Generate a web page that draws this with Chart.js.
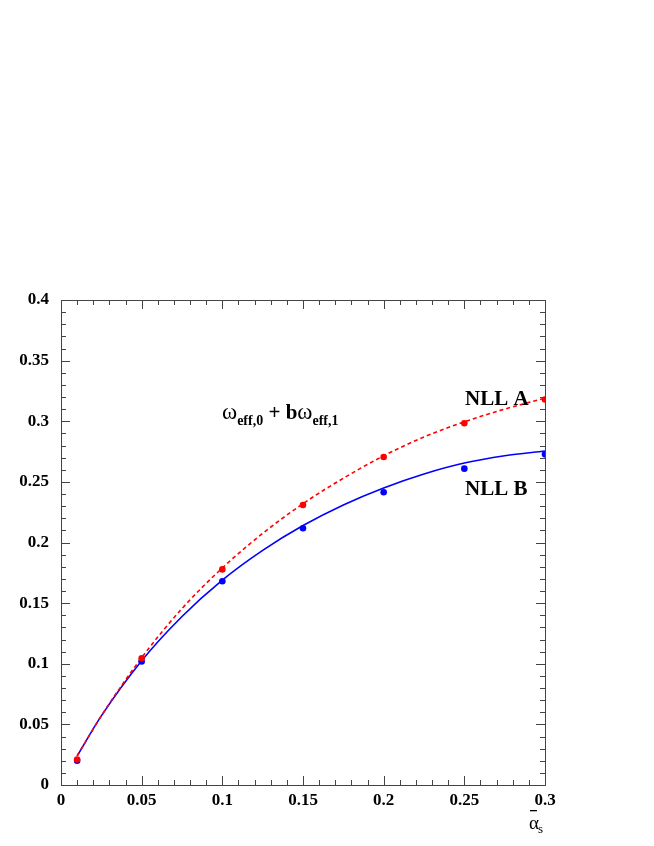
<!DOCTYPE html>
<html>
<head>
<meta charset="utf-8">
<title>omega eff vs alpha_s</title>
<script src="https://cdn.jsdelivr.net/npm/chart.js@4.4.1/dist/chart.umd.min.js"></script>
<style>
  html, body { margin: 0; padding: 0; background: #fff; }
  #plot { display: block; }
</style>
</head>
<body>
<canvas id="plot" width="654" height="846"></canvas>
<script>
// measured points
const alphaPoints = [0.01, 0.05, 0.1, 0.15, 0.2, 0.25, 0.3];
const nllAPoints = [0.021, 0.1045, 0.1778, 0.2309, 0.2705, 0.2984, 0.318];
const nllBPoints = [0.020, 0.1018, 0.168, 0.2117, 0.2414, 0.2609, 0.2727];

// fitted curves
const curveX = [0.01, 0.025, 0.05, 0.075, 0.1, 0.125, 0.15, 0.175, 0.2, 0.225, 0.25, 0.275, 0.3];
const nllACurve = [0.024, 0.057, 0.105, 0.1455, 0.179, 0.2075, 0.232, 0.253, 0.2715, 0.287, 0.2995, 0.31, 0.319];
const nllBCurve = [0.024, 0.057, 0.1025, 0.139, 0.169, 0.1935, 0.214, 0.231, 0.245, 0.2565, 0.2655, 0.2715, 0.2755];

const xTicks = [0, 0.05, 0.1, 0.15, 0.2, 0.25, 0.3];
const yTicks = [0, 0.05, 0.1, 0.15, 0.2, 0.25, 0.3, 0.35, 0.4];

const RED = '#ff0000';
const BLUE = '#0000ff';
const FRAME = '#444444';
const SERIF = "'Liberation Serif', 'DejaVu Serif', serif";

const toXY = (xs, ys) => xs.map((x, i) => ({ x: x, y: ys[i] }));

// frame + inward ticks on all four sides, ROOT style
const framePlugin = {
    id: 'frame',
    afterDatasetsDraw(chart) {
        const { ctx, chartArea: a, scales } = chart;
        const xs = scales.x, ys = scales.y;
        ctx.save();
        ctx.strokeStyle = FRAME;
        ctx.lineWidth = 1;
        ctx.strokeRect(a.left + 0.5, a.top + 0.5, a.right - a.left, a.bottom - a.top);

        ctx.beginPath();
        for (let i = 0; i <= 30; i++) {
            const v = i / 100;
            const len = i % 5 === 0 ? 9 : 5;
            const px = Math.round(xs.getPixelForValue(v)) + 0.5;
            ctx.moveTo(px, a.bottom); ctx.lineTo(px, a.bottom - len);
            ctx.moveTo(px, a.top); ctx.lineTo(px, a.top + len);
        }
        for (let i = 0; i <= 40; i++) {
            const v = i / 100;
            const len = i % 5 === 0 ? 9 : 5;
            const py = Math.round(ys.getPixelForValue(v)) + 0.5;
            ctx.moveTo(a.left, py); ctx.lineTo(a.left + len, py);
            ctx.moveTo(a.right, py); ctx.lineTo(a.right - len, py);
        }
        ctx.stroke();
        ctx.restore();
    }
};

// labels: formula, curve names, x-axis title
const textPlugin = {
    id: 'texts',
    afterDraw(chart) {
        const ctx = chart.ctx;
        ctx.save();
        ctx.fillStyle = '#000';
        ctx.textBaseline = 'alphabetic';
        ctx.textAlign = 'left';

        // omega_eff,0 + b omega_eff,1
        let x = 222;
        const base = 419;
        const omega = '23px ' + SERIF;
        const big = 'bold 21px ' + SERIF;
        const small = 'bold 14px ' + SERIF;
        const parts = [
            ['ω', omega, 0], ['eff,0', small, 6], [' + b', big, 0], ['ω', omega, 0], ['eff,1', small, 6]
        ];
        parts.forEach(([t, f, dy]) => {
            ctx.font = f;
            ctx.fillText(t, x, base + dy);
            x += ctx.measureText(t).width;
        });

        ctx.font = 'bold 21px ' + SERIF;
        ctx.fillText('NLL A', 465, 405);
        ctx.fillText('NLL B', 465, 495);

        // alpha-bar sub s
        ctx.font = '19px ' + SERIF;
        ctx.fillText('α', 529, 829);
        const aw = ctx.measureText('α').width;
        ctx.fillRect(530, 810, aw - 3, 1.3);
        ctx.font = '13px ' + SERIF;
        ctx.fillText('s', 529 + aw - 1, 833);
        ctx.restore();
    }
};

new Chart(document.getElementById('plot'), {
    type: 'scatter',
    data: {
        datasets: [
            {
                label: 'NLL A points',
                data: toXY(alphaPoints, nllAPoints),
                backgroundColor: RED,
                borderColor: RED,
                pointRadius: 3.3,
                pointBorderWidth: 0,
                clip: 0
            },
            {
                label: 'NLL B points',
                data: toXY(alphaPoints, nllBPoints),
                backgroundColor: BLUE,
                borderColor: BLUE,
                pointRadius: 3.3,
                pointBorderWidth: 0,
                clip: 0
            },
            {
                label: 'NLL A',
                data: toXY(curveX, nllACurve),
                showLine: true,
                borderColor: RED,
                borderWidth: 1.6,
                borderDash: [4, 3],
                pointRadius: 0,
                cubicInterpolationMode: 'monotone',
                clip: 0
            },
            {
                label: 'NLL B',
                data: toXY(curveX, nllBCurve),
                showLine: true,
                borderColor: BLUE,
                borderWidth: 1.6,
                pointRadius: 0,
                cubicInterpolationMode: 'monotone',
                clip: 0
            }
        ]
    },
    options: {
        responsive: false,
        animation: false,
        layout: { padding: { top: 300, right: 109, left: 0, bottom: 0 } },
        plugins: {
            legend: { display: false },
            tooltip: { enabled: false }
        },
        scales: {
            x: {
                type: 'linear',
                min: 0,
                max: 0.3,
                afterFit: (s) => { s.height = 61; },
                afterBuildTicks: (s) => { s.ticks = xTicks.map(v => ({ value: v })); },
                grid: { display: false, drawTicks: false },
                border: { display: false },
                ticks: {
                    padding: 5,
                    color: '#000',
                    font: { family: SERIF, size: 17, weight: 'bold' },
                    callback: (v) => String(+v.toFixed(2)),
                    maxRotation: 0
                }
            },
            y: {
                type: 'linear',
                min: 0,
                max: 0.4,
                afterFit: (s) => { s.width = 61; },
                afterBuildTicks: (s) => { s.ticks = yTicks.map(v => ({ value: v })); },
                grid: { display: false, drawTicks: false },
                border: { display: false },
                ticks: {
                    padding: 12,
                    color: '#000',
                    font: { family: SERIF, size: 17, weight: 'bold' },
                    callback: (v) => String(+v.toFixed(2))
                }
            }
        }
    },
    plugins: [framePlugin, textPlugin]
});
</script>
</body>
</html>
